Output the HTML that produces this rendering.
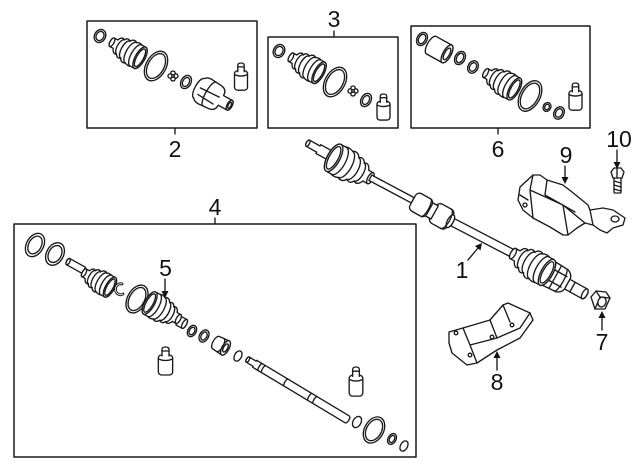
<!DOCTYPE html>
<html><head><meta charset="utf-8">
<style>
html,body{margin:0;padding:0;background:#fff;}
svg{display:block;}
path,ellipse,rect,polygon,line,circle,polyline{vector-effect:non-scaling-stroke;}
text{font-family:"Liberation Sans",Arial,sans-serif;font-size:23px;fill:#111;text-anchor:middle;}
</style></head>
<body>
<svg width="640" height="471" viewBox="0 0 640 471" xmlns="http://www.w3.org/2000/svg">
<defs>
<g id="boot">
<path d="M-20,-6 L-15,-6 C-13,-11 -10,-12 -8,-10 C-6,-14 -3,-14 -1,-12 C1,-16 5,-16.5 7,-14.5 C9,-16 13,-16 15,-15 L20,-15 A6,15 0 0 1 20,15 L15,15 C13,16 9,16 7,14.5 C5,16.5 1,16 -1,12 C-3,14 -6,14 -8,10 C-10,12 -13,11 -15,6 L-20,6 A2.5,6 0 0 1 -20,-6 Z"/>
<path d="M-8,-10 A4,10 0 0 0 -8,10 M-1,-12 A5,12 0 0 0 -1,12 M7,-14.5 A6,14.5 0 0 0 7,14.5 M14,-15 A6,15 0 0 0 14,15" fill="none"/>
<ellipse cx="20" cy="0" rx="6" ry="15"/>
<ellipse cx="20" cy="0" rx="4.3" ry="12.3"/>
<ellipse cx="-20" cy="0" rx="2.5" ry="6"/>
</g>
<g id="tube">
<rect x="-6.5" y="8" width="13" height="20" rx="3"/>
<path d="M-6.5,12 Q0,15 6.5,12" fill="none"/>
<path d="M-3.2,9 L-3.2,2.5 Q-3.2,0 0,0 Q3.2,0 3.2,2.5 L3.2,9"/>
<path d="M-3.2,4 L3.2,4" fill="none"/>
</g>
<g id="spider">
<circle cx="0" cy="-2.8" r="2.2"/><circle cx="2.8" cy="0" r="2.2"/><circle cx="0" cy="2.8" r="2.2"/><circle cx="-2.8" cy="0" r="2.2"/><circle cx="0" cy="0" r="1.3"/>
</g>
</defs>

<g fill="#fff" stroke="#1a1a1a" stroke-width="1.35" stroke-linejoin="round" stroke-linecap="round">

<!-- Boxes -->
<rect x="87" y="21" width="170" height="107" stroke-width="1.5"/>
<rect x="268" y="37" width="130" height="91" stroke-width="1.5"/>
<rect x="411" y="26" width="179" height="102" stroke-width="1.5"/>
<rect x="14" y="224" width="402" height="233" stroke-width="1.5"/>
<line x1="175" y1="128" x2="175" y2="134"/>
<line x1="334" y1="31" x2="334" y2="37"/>
<line x1="498" y1="128" x2="498" y2="134"/>
<line x1="215" y1="218" x2="215" y2="224"/>

<!-- Box 2 parts -->
<g transform="translate(100,36) rotate(29)"><ellipse rx="5.5" ry="6.8"/><ellipse rx="3.8" ry="4.8"/></g>
<use href="#boot" transform="translate(126,50) rotate(29) scale(0.8)"/>
<g transform="translate(156,66) rotate(29)"><ellipse rx="10" ry="16"/><ellipse rx="8" ry="13.5"/></g>
<use href="#spider" transform="translate(173,76)"/>
<g transform="translate(186,82) rotate(29)"><ellipse rx="5" ry="7"/><ellipse rx="3.2" ry="4.8"/></g>
<g transform="translate(213,96) rotate(29)">
<path d="M-16,-11 Q-14,-14 -9,-14 L3,-13 Q9,-12 9,-6 L9,-5.5 L19,-5.5 A2.5,5.5 0 0 1 19,5.5 L9,5.5 L9,6 Q9,12 3,13 L-9,14 Q-14,14 -16,11 A4,11 0 0 1 -16,-11 Z"/>
<path d="M-4,-13.5 A4,13.5 0 0 0 -4,13.5 M-15,-1 L6,-2 M-14,6 L4,7" fill="none"/>
<ellipse cx="19" cy="0" rx="2.5" ry="5.5"/><ellipse cx="19" cy="0" rx="1.4" ry="3.3"/>
</g>
<use href="#tube" transform="translate(241,63) scale(1,0.97)"/>

<!-- Box 3 parts -->
<g transform="translate(279,51) rotate(29)"><ellipse rx="5.5" ry="6.8"/><ellipse rx="3.8" ry="4.8"/></g>
<use href="#boot" transform="translate(305,65) rotate(29) scale(0.8)"/>
<g transform="translate(335,82) rotate(29)"><ellipse rx="10" ry="16"/><ellipse rx="8" ry="13.5"/></g>
<use href="#spider" transform="translate(353,91)"/>
<g transform="translate(366,100) rotate(29)"><ellipse rx="5" ry="7"/><ellipse rx="3.2" ry="4.8"/></g>
<use href="#tube" transform="translate(383.5,94) scale(1,0.93)"/>

<!-- Box 6 parts -->
<g transform="translate(422,39) rotate(29)"><ellipse rx="5" ry="7"/><ellipse rx="3.3" ry="5"/></g>
<g transform="translate(440,50) rotate(29)">
<path d="M-10,-10 L8,-10 A4,10 0 0 1 8,10 L-10,10 A4,10 0 0 1 -10,-10 Z"/>
<ellipse cx="8" cy="0" rx="4" ry="10"/><ellipse cx="8" cy="0" rx="2.5" ry="6.5"/>
</g>
<g transform="translate(460,58) rotate(29)"><ellipse rx="5" ry="7"/><ellipse rx="3.3" ry="5"/></g>
<g transform="translate(473,67) rotate(29)"><ellipse rx="5" ry="6.5"/><ellipse rx="3.3" ry="4.5"/></g>
<use href="#boot" transform="translate(500,81) rotate(29) scale(0.82)"/>
<g transform="translate(530,96) rotate(29)"><ellipse rx="10" ry="16.5"/><ellipse rx="8" ry="14"/></g>
<g transform="translate(547,107) rotate(29)"><ellipse rx="3.8" ry="4.6"/><ellipse rx="2.2" ry="2.8"/></g>
<g transform="translate(559,113) rotate(29)"><ellipse rx="5" ry="6.5"/><ellipse rx="3.3" ry="4.5"/></g>
<use href="#tube" transform="translate(575.5,83) scale(1,0.97)"/>

<!-- Main shaft assembly (1) -->
<g transform="translate(321,150.5) rotate(29)">
<path d="M-15,-3.5 L-3,-3.5 L-3,-5 L15,-5 L15,5 L-3,5 L-3,3.5 L-15,3.5 A1.6,3.5 0 0 1 -15,-3.5 Z"/>
<ellipse cx="-15" cy="0" rx="1.6" ry="3.5"/>
</g>
<use href="#boot" transform="translate(352,168) rotate(29) scale(-1.05,1.02)"/>
<g transform="translate(391.5,189) rotate(28)"><rect x="-24" y="-3" width="48" height="6"/></g>
<g transform="translate(482,237.5) rotate(27.5)"><rect x="-36" y="-4" width="72" height="8"/></g>
<g transform="translate(432,211) rotate(29)">
<rect x="1" y="-11" width="20" height="22" rx="5"/>
<ellipse cx="21" cy="0" rx="3" ry="7"/>
<rect x="-4" y="-7.5" width="7" height="15"/>
<rect x="-22" y="-10" width="19" height="20" rx="4.5"/>
<path d="M-7,-10 A3,10 0 0 1 -7,10" fill="none"/>
<path d="M16,-11 A4,11 0 0 1 16,11" fill="none"/>
</g>
<g transform="translate(557,278) rotate(29)">
<path d="M-12,-13.5 L6,-12.5 Q12,-10 12,-5 L12,5 Q12,10 6,12.5 L-12,13.5 Z"/>
<path d="M-2,-13 L-2,13 M4,-12.5 A3,12.5 0 0 1 4,12.5 M-8,-6 L8,-6 M-8,6 L8,6" fill="none"/>
</g>
<use href="#boot" transform="translate(530,263) rotate(29) scale(0.97)"/>
<g transform="translate(576,289) rotate(29)">
<path d="M-10,-5.5 L10,-5.5 A2.4,5.5 0 0 1 10,5.5 L-10,5.5 Z"/>
<ellipse cx="10" cy="0" rx="2.4" ry="5.5"/>
<path d="M-4,-5.5 L-4,5.5" fill="none"/>
</g>

<!-- Nut 7 -->
<polygon points="591,297 596,291 606,292 610,298 605,309 595,309"/>
<path d="M596,291 L600,297 L610,298 M600,297 L595,309" fill="none"/>
<ellipse cx="602" cy="302" rx="4" ry="5" transform="rotate(20 602 302)"/>

<!-- Part 9 heat shield -->
<polygon points="520,187 533,175 540,175 547,180 563,185 572,192 588,205 590,210 603,208 613,210 625,218 623,225 613,228 607,233 600,230 593,225 585,223 577,228 568,235 563,235 550,227 533,218 523,210 518,200"/>
<path d="M533,175 L530,190 L533,218 M530,190 L563,205 L585,223 M547,180 L545,195 L575,212 M563,205 L568,235 M590,210 L593,225 M520,195 L528,200" fill="none"/>
<ellipse cx="615" cy="219" rx="4" ry="3"/>
<circle cx="525" cy="205" r="2"/>

<!-- Bolt 10 -->
<rect x="614" y="177" width="7" height="16" rx="1"/>
<path d="M614,181 L621,183 M614,185 L621,187 M614,189 L621,191" fill="none"/>
<polygon points="611,172 614,168 621,168 624,172 622,178 613,178"/>
<path d="M617,168 L617,178" fill="none"/>

<!-- Part 8 bracket -->
<polygon points="449,332 463,328 490,320 503,305 508,303 530,313 533,320 520,338 497,350 477,363 467,365 452,353 449,343"/>
<path d="M463,328 L470,345 L477,363 M470,345 L497,338 L520,328 L530,313 M490,320 L497,338 M503,305 L510,322" fill="none"/>
<circle cx="456" cy="333" r="1.8"/><circle cx="492" cy="337" r="1.8"/><circle cx="512" cy="325" r="1.8"/><circle cx="470" cy="355" r="1.8"/>

<!-- Box 4 parts -->
<g transform="translate(35,245) rotate(29)"><ellipse rx="8.5" ry="12.5"/><ellipse rx="6.3" ry="9.5"/></g>
<g transform="translate(55,254) rotate(29)"><ellipse rx="8.5" ry="12"/><ellipse rx="6.3" ry="9"/></g>
<g transform="translate(76,266) rotate(29)">
<path d="M-9,-3.5 L9,-3.5 L9,3.5 L-9,3.5 A1.6,3.5 0 0 1 -9,-3.5 Z"/>
<ellipse cx="-9" cy="0" rx="1.6" ry="3.5"/>
</g>
<use href="#boot" transform="translate(97,280) rotate(29) scale(0.74)"/>
<path d="M122,284 A5,5.5 0 1 0 123,294" fill="none" stroke-width="2.8"/>
<path d="M122,284 A5,5.5 0 1 0 123,294" fill="none" stroke="#fff" stroke-width="0.8"/>
<g transform="translate(137,299) rotate(29)"><ellipse rx="9.5" ry="15"/><ellipse rx="7.5" ry="12.5"/></g>
<g transform="translate(181,322) rotate(29)">
<path d="M-3,-5 L4,-5 A2,5 0 0 1 4,5 L-3,5 Z"/><ellipse cx="4" cy="0" rx="2" ry="5"/>
</g>
<use href="#boot" transform="translate(164,311) rotate(29) scale(-0.82,0.84)"/>
<g transform="translate(192,331) rotate(29)"><ellipse rx="4.2" ry="6"/><ellipse rx="2.6" ry="4"/></g>
<g transform="translate(204,336) rotate(29)"><ellipse rx="4.5" ry="6.5"/><ellipse rx="2.8" ry="4.3"/></g>
<g transform="translate(222,346) rotate(29)">
<path d="M-7,-7 L4,-8 A3.5,8 0 0 1 4,8 L-7,7 A3,7 0 0 1 -7,-7 Z"/>
<ellipse cx="4" cy="0" rx="3.5" ry="8"/><ellipse cx="4" cy="0" rx="2" ry="4.5"/>
<path d="M-2,-7.5 A3,7.5 0 0 1 -2,7.5" fill="none"/>
</g>
<g transform="translate(238,356) rotate(29)"><ellipse rx="3.5" ry="5.5"/></g>
<use href="#tube" transform="translate(165.5,347) scale(1.1,1)"/>
<g transform="translate(297.5,389.5) rotate(31)">
<path d="M-58,-3 L-50,-3 L-50,-4 L58,-4 A1.8,4 0 0 1 58,4 L-50,4 L-50,3 L-58,3 A1.4,3 0 0 1 -58,-3 Z"/>
<ellipse cx="-58" cy="0" rx="1.4" ry="3"/>
<path d="M-44,-4 Q-45.5,0 -44,4 M-40,-4 Q-41.5,0 -40,4 M-14,-4 Q-15.5,0 -14,4 M14,-4 Q12.5,0 14,4 M20,-4 Q18.5,0 20,4" fill="none"/>
</g>
<use href="#tube" transform="translate(356,367) scale(1.05,1.04)"/>
<g transform="translate(357,422) rotate(29)"><ellipse rx="4" ry="6"/></g>
<g transform="translate(374,430) rotate(29)"><ellipse rx="9.5" ry="14"/><ellipse rx="7.5" ry="11.5"/></g>
<g transform="translate(392,439) rotate(29)"><ellipse rx="4" ry="5.8"/><ellipse rx="2.4" ry="3.8"/></g>
<g transform="translate(404,446) rotate(29)"><ellipse rx="3.5" ry="5.5"/></g>

<!-- Callout arrows -->
<line x1="165" y1="279" x2="165" y2="292"/>
<line x1="468" y1="260" x2="478" y2="248"/>
<line x1="602" y1="330" x2="602" y2="317"/>
<line x1="497" y1="370" x2="497" y2="357"/>
<line x1="565" y1="166" x2="565" y2="178"/>
<line x1="617" y1="150" x2="617" y2="163"/>
</g>

<g fill="#111" stroke="none">
<polygon points="161.5,291 168.5,291 165,298"/>
<polygon points="475,246 480.5,250.5 482,243"/>
<polygon points="598.5,318 605.5,318 602,311"/>
<polygon points="493.5,358 500.5,358 497,351"/>
<polygon points="561.5,177 568.5,177 565,184"/>
<polygon points="613.5,162 620.5,162 617,169"/>
</g>

<!-- Labels -->
<text x="175" y="157">2</text>
<text x="334" y="27">3</text>
<text x="498" y="157">6</text>
<text x="215" y="215">4</text>
<text x="165.5" y="276">5</text>
<text x="462" y="278">1</text>
<text x="602" y="350">7</text>
<text x="497" y="390">8</text>
<text x="566" y="163">9</text>
<text x="619" y="147">10</text>
</svg>
</body></html>
